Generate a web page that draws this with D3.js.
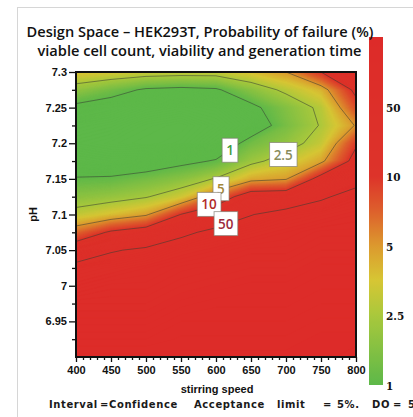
<!DOCTYPE html>
<html>
<head>
<meta charset="utf-8">
<script src="https://cdn.jsdelivr.net/npm/d3@7"></script>
<style>
  body { margin: 0; background: #fff; }
  svg { display: block; }
</style>
</head>
<body>
<svg id="chart" width="413" height="417"></svg>
<script>
// Design space grid: probability of failure (%) per stirring speed (columns) and pH (rows)
const stirringSpeeds = [400, 450, 500, 550, 600, 650, 700, 750, 800];
const phLevels = [7.3, 7.275, 7.25, 7.225, 7.2, 7.175, 7.15, 7.125, 7.1, 7.075, 7.05, 7.025, 7.0, 6.975, 6.95, 6.925, 6.9];
const failureProbability = [
  [4.0, 3.75, 3.4, 3.25, 3.25, 4.0, 5.0, 10, 38],
  [2.04, 1.45, 0.91, 0.82, 0.91, 1.86, 2.88, 4.25, 18],
  [0.82, 0.64, 0.46, 0.37, 0.46, 0.82, 1.75, 2.88, 8.5],
  [0.46, 0.37, 0.19, 0.1, 0.28, 0.55, 1.53, 2.63, 5.25],
  [0.28, 0.19, 0.1, 0.19, 0.46, 1.42, 2.05, 3.25, 9.5],
  [0.55, 0.46, 0.55, 0.82, 1.09, 2.23, 3.25, 4.63, 22],
  [1.08, 1.15, 1.48, 1.87, 2.63, 4.5, 4.88, 23.2, 42],
  [1.9, 2.11, 2.43, 3.5, 7.25, 30, 32, 46.8, 60],
  [3.15, 3.95, 4.8, 10.8, 32.4, 49.2, 60, 65, 70],
  [7.05, 14.4, 27.6, 44.8, 57.5, 65, 70, 75, 75],
  [32.4, 48, 55, 65, 70, 75, 75, 80, 80],
  [60, 65, 70, 75, 77.5, 80, 80, 85, 85],
  [70, 75, 75, 80, 82.5, 85, 85, 87.5, 87.5],
  [80, 80, 80, 85, 87.5, 87.5, 87.5, 90, 90],
  [85, 85, 85, 90, 90, 90, 90, 92.5, 92.5],
  [90, 90, 90, 92.5, 92.5, 92.5, 92.5, 95, 95],
  [95, 95, 95, 95, 95, 95, 95, 95, 97.5]
];

// Contour levels (%) and the colour-bar tick labels
const contourLevels = [1, 2.5, 5, 10, 50];
const colorbarTicks = ["1", "2.5", "5", "10", "50"];

// Label anchors on the contour lines (stirring speed, pH)
const labelAnchors = [
  { level: 1, speed: 620, ph: 7.19, color: "#3f9a3f" },
  { level: 2.5, speed: 696, ph: 7.184, color: "#8a8c5c" },
  { level: 5, speed: 607, ph: 7.136, color: "#a3873a" },
  { level: 10, speed: 590, ph: 7.114, color: "#b02a2a" },
  { level: 50, speed: 614, ph: 7.087, color: "#9c2a3c" }
];

const svg = d3.select("#chart");
const W = 413, H = 417;
const plot = { left: 76, right: 356, top: 72, bottom: 357 };

// Outer panel edge
svg.append("rect")
  .attr("x", 17.5).attr("y", 7.5).attr("width", W).attr("height", H)
  .attr("fill", "none").attr("stroke", "#d6d6d6").attr("stroke-width", 1);

const x = d3.scaleLinear().domain([400, 800]).range([plot.left, plot.right]);
const y = d3.scaleLinear().domain([6.9, 7.3]).range([plot.bottom, plot.top]);

// Non-linear failure scale: each tick step of the colour bar is one unit
const tScale = d3.scaleLinear()
  .domain([0.1, 1, 2.5, 5, 10, 50, 100])
  .range([-1, 0, 1, 2, 3, 4, 5])
  .clamp(true);

const color = d3.scaleLinear()
  .domain([0, 1, 1.5, 2, 2.5, 3, 5])
  .range(["#5db849", "#a9c83c", "#d6c634", "#dc992e", "#dd602c", "#dd332a", "#dd2b29"])
  .clamp(true);

// Contour geometry lives in grid space; values sit at cell centres
const nx = stirringSpeeds.length, ny = phLevels.length;
const dSpeed = stirringSpeeds[1] - stirringSpeeds[0];
const dPh = phLevels[0] - phLevels[1];
const tGrid = failureProbability.flat().map(tScale);
const gridProjection = d3.geoTransform({
  point(gx, gy) {
    const speed = stirringSpeeds[0] + (gx - 0.5) * dSpeed;
    const ph = phLevels[0] - (gy - 0.5) * dPh;
    this.stream.point(x(speed), y(ph));
  }
});
const path = d3.geoPath(gridProjection);

svg.append("clipPath").attr("id", "plotClip")
  .append("rect")
  .attr("x", plot.left).attr("y", plot.top)
  .attr("width", plot.right - plot.left).attr("height", plot.bottom - plot.top);

const plotG = svg.append("g").attr("clip-path", "url(#plotClip)");

plotG.append("rect")
  .attr("x", plot.left).attr("y", plot.top)
  .attr("width", plot.right - plot.left).attr("height", plot.bottom - plot.top)
  .attr("fill", color(0));

// Smooth colour fill from many thin bands
const step = 0.04;
const bandThresholds = d3.range(-1, 5 + 1e-9, step);
const bands = d3.contours().size([nx, ny]).thresholds(bandThresholds)(tGrid);
plotG.append("g").selectAll("path")
  .data(bands)
  .join("path")
  .attr("d", path)
  .attr("fill", d => color(d.value + step / 2))
  .attr("stroke", d => color(d.value + step / 2))
  .attr("stroke-width", 0.3);

// Contour lines at the labelled levels
const lines = d3.contours().size([nx, ny]).thresholds(contourLevels.map(tScale))(tGrid);
plotG.append("g").selectAll("path")
  .data(lines)
  .join("path")
  .attr("d", path)
  .attr("fill", "none")
  .attr("stroke", "rgba(55,60,50,0.6)")
  .attr("stroke-width", 0.9);

// Contour labels in white boxes
const labelG = plotG.append("g");
labelAnchors.forEach(a => {
  const g = labelG.append("g")
    .attr("transform", `translate(${x(a.speed)},${y(a.ph)})`);
  const box = g.append("rect");
  const t = g.append("text")
    .attr("text-anchor", "middle")
    .attr("dy", "0.36em")
    .attr("font-family", "'Open Sans', 'Noto Sans', sans-serif")
    .attr("font-weight", 600)
    .attr("font-size", 13.5)
    .attr("fill", a.color)
    .text(String(a.level));
  const bb = t.node().getBBox();
  const padX = 4, padY = 3;
  box.attr("x", bb.x - padX).attr("y", bb.y - padY)
    .attr("width", bb.width + 2 * padX).attr("height", bb.height + 2 * padY)
    .attr("fill", "#fff")
    .attr("stroke", "rgba(130,125,115,0.75)")
    .attr("stroke-width", 0.9);
});

// Axes with major and minor ticks
const tickFont = "'Liberation Sans', Arial, sans-serif";
const xMajor = d3.range(400, 801, 50);
const xMinor = d3.range(400, 801, 10).filter(v => v % 50 !== 0);
const yMajor = d3.range(0, 8).map(i => +(6.95 + i * 0.05).toFixed(2));
const yMinor = d3.range(0, 8).map(i => +(6.925 + i * 0.05).toFixed(3));

const xAxisMinor = svg.append("g")
  .attr("transform", `translate(0,${plot.bottom})`)
  .call(d3.axisBottom(x).tickValues(xMinor).tickSize(3).tickFormat(""));
const xAxis = svg.append("g")
  .attr("transform", `translate(0,${plot.bottom})`)
  .call(d3.axisBottom(x).tickValues(xMajor).tickSize(5).tickPadding(4).tickFormat(d3.format("d")));
const yAxisMinor = svg.append("g")
  .attr("transform", `translate(${plot.left},0)`)
  .call(d3.axisLeft(y).tickValues(yMinor).tickSize(4).tickFormat(""));
const yAxis = svg.append("g")
  .attr("transform", `translate(${plot.left},0)`)
  .call(d3.axisLeft(y).tickValues(yMajor).tickSize(7).tickPadding(2).tickFormat(d => String(+d.toFixed(2))));

[xAxisMinor, xAxis, yAxisMinor, yAxis].forEach(g => {
  g.select(".domain").remove();
  g.selectAll(".tick line").attr("stroke", "#111").attr("stroke-width", 1.3);
  g.selectAll(".tick text")
    .attr("font-family", tickFont)
    .attr("font-weight", "bold")
    .attr("font-size", 11)
    .attr("fill", "#111");
});

// Plot frame
svg.append("rect")
  .attr("x", plot.left).attr("y", plot.top)
  .attr("width", plot.right - plot.left).attr("height", plot.bottom - plot.top)
  .attr("fill", "none").attr("stroke", "#111").attr("stroke-width", 2);

// Axis titles
svg.append("text")
  .attr("x", (plot.left + plot.right) / 2 + 1).attr("y", 393)
  .attr("text-anchor", "middle")
  .attr("font-family", tickFont).attr("font-weight", "bold").attr("font-size", 11)
  .attr("fill", "#111")
  .text("stirring speed");
svg.append("text")
  .attr("transform", `translate(37,${(plot.top + plot.bottom) / 2}) rotate(-90)`)
  .attr("text-anchor", "middle")
  .attr("font-family", tickFont).attr("font-weight", "bold").attr("font-size", 11)
  .attr("fill", "#111")
  .text("pH");

// Colour bar
const cb = { x: 369, width: 14 };
const cbY = d3.scaleLinear().domain([0, 5]).range([385, 37]);
const grad = svg.append("defs").append("linearGradient")
  .attr("id", "cbGrad").attr("x1", 0).attr("y1", 1).attr("x2", 0).attr("y2", 0);
d3.range(0, 5.001, 0.05).forEach(t => {
  grad.append("stop").attr("offset", t / 5).attr("stop-color", color(t));
});
svg.append("rect")
  .attr("x", cb.x).attr("y", cbY(5))
  .attr("width", cb.width).attr("height", cbY(0) - cbY(5))
  .attr("fill", "url(#cbGrad)");
svg.append("g").selectAll("text")
  .data(colorbarTicks)
  .join("text")
  .attr("x", cb.x + cb.width + 3)
  .attr("y", d => cbY(tScale(+d)) + 5)
  .attr("font-family", "'DejaVu Serif', serif")
  .attr("font-weight", "bold")
  .attr("font-size", 10.5)
  .attr("fill", "#111")
  .text(d => d);

// Titles
const titleFont = "'Open Sans', 'Noto Sans', sans-serif";
svg.append("text")
  .attr("x", 200).attr("y", 37)
  .attr("text-anchor", "middle")
  .attr("font-family", titleFont).attr("font-weight", 600).attr("font-size", 14.6)
  .attr("fill", "#111")
  .text("Design Space – HEK293T, Probability of failure (%)");
svg.append("text")
  .attr("x", 199.5).attr("y", 56)
  .attr("text-anchor", "middle")
  .attr("font-family", titleFont).attr("font-weight", 600).attr("font-size", 14.6)
  .attr("fill", "#111")
  .text("viable cell count, viability and generation time");

// Footnote line
const foot = svg.append("text")
  .attr("y", 408)
  .attr("font-family", "'DejaVu Sans', sans-serif")
  .attr("font-weight", "bold").attr("font-size", 10)
  .attr("letter-spacing", 0.6)
  .attr("fill", "#1a1a1a");
[["Interval", 49], ["=Confidence", 100], ["Acceptance", 194], ["limit", 277],
 ["=", 323], ["5%.", 337], ["DO", 372], ["=", 393], ["5", 408]].forEach(([s, px]) => {
  foot.append("tspan").attr("x", px).text(s);
});
</script>
</body>
</html>
